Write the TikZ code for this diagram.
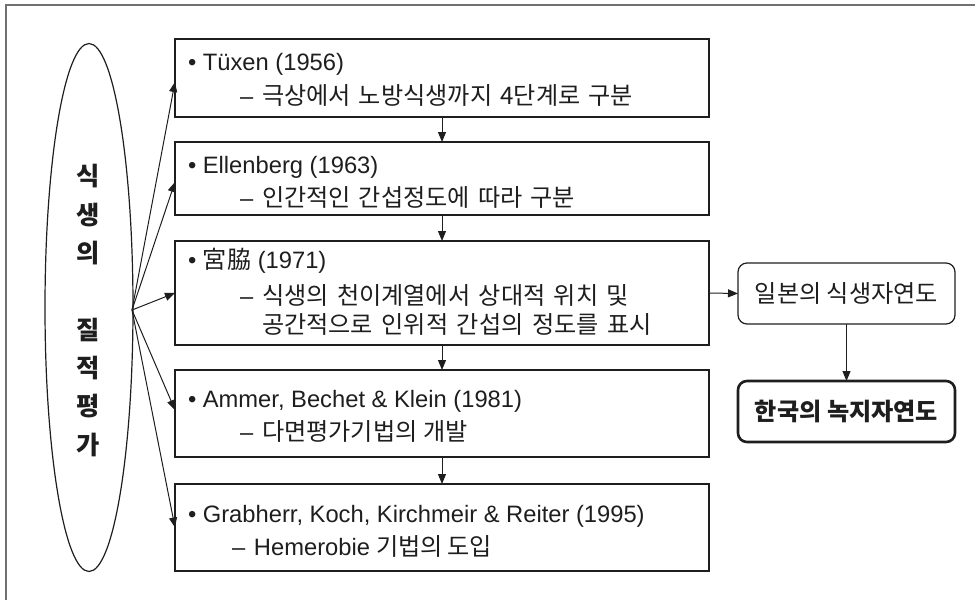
\documentclass[tikz,border=0pt]{standalone}
\usepackage{fontspec}
\setmainfont{Liberation Sans}[Scale=1.13]
\newfontfamily\kr{Noto Sans CJK KR}[Scale=1.15]
\usetikzlibrary{shapes.geometric,arrows.meta}
\definecolor{ink}{HTML}{1E1E1E}
\definecolor{framegray}{HTML}{707070}
\newcommand\fitline[2]{\makebox[#1pt][s]{#2}}
\newcommand\dashlead{\makebox[22pt][l]{–}}
\begin{document}
\begin{tikzpicture}[x=1pt,y=-1pt,
  every node/.style={inner sep=0pt,outer sep=0pt,text=ink},
  box/.style={draw=ink,line width=1.2pt,minimum width=534pt},
  rbox/.style={draw=ink,line width=1.2pt,rounded corners=9pt,minimum width=217pt,minimum height=61pt,font=\kr\fontsize{21}{25}\selectfont},
  txt/.style={anchor=base west,font=\fontsize{21}{25}\selectfont},
  arr/.style={draw=ink,line width=1pt,-{Triangle[length=10pt,width=8pt]}}
]
\useasboundingbox (0,0) rectangle (975,600);
\draw[framegray,line width=2pt] (6,600) -- (6,5) -- (975,5);

\node[draw=ink,line width=1.2pt,ellipse,minimum width=88pt,minimum height=528pt] (ell) at (89,307.5) {};
\node[align=center,font=\kr\bfseries\fontsize{22}{38.3}\selectfont] (elltxt) at (88,310.5)
  {식\\생\\의\\\mbox{}\\질\\적\\평\\가};

\node[box,minimum height=78pt] (b1) at (442,78) {};
\node[box,minimum height=73pt] (b2) at (442,178.5) {};
\node[box,minimum height=104pt] (b3) at (442,293) {};
\node[box,minimum height=87pt] (b4) at (442,413.5) {};
\node[box,minimum height=87pt] (b5) at (442,527.5) {};

\node[txt] (t1a) at (188,70) {• Tüxen (1956)};
\node[txt] (t1b) at (240,104) {\dashlead\fitline{371}{\kr 극상에서 노방식생까지 4단계로 구분}};
\node[txt] (t2a) at (188,173) {• Ellenberg (1963)};
\node[txt] (t2b) at (240,206) {\dashlead\fitline{313}{\kr 인간적인 간섭정도에 따라 구분}};
\node[txt] (t3a) at (188,268) {• {\kr 宮脇} (1971)};
\node[txt] (t3b) at (240,304) {\dashlead\fitline{367}{\kr 식생의 천이계열에서 상대적 위치 및}};
\node[txt] (t3c) at (262,333) {\fitline{390}{\kr 공간적으로 인위적 간섭의 정도를 표시}};
\node[txt] (t4a) at (188,407) {• Ammer, Bechet \& Klein (1981)};
\node[txt] (t4b) at (240,440) {\dashlead\fitline{206}{\kr 다면평가기법의 개발}};
\node[txt] (t5a) at (188,522) {• Grabherr, Koch, Kirchmeir \& Reiter (1995)};
\node[txt] (t5b) at (232,555) {\dashlead\fitline{238}{Hemerobie {\kr 기법의 도입}}};

\node[rbox] (jp) at (846.5,293.5) {일본의 식생자연도};
\node[rbox,line width=2.6pt,font=\kr\bfseries\fontsize{21}{28}\selectfont] (ko) at (846.5,411.5) {한국의 녹지자연도};

\coordinate (src) at (132,310);
\draw[arr] (src) -- ([yshift=-4pt]b1.west);
\draw[arr] (src) -- ([yshift=-3.5pt]b2.west);
\draw[arr] (src) -- (b3.west);
\draw[arr] (src) -- ([yshift=3.5pt]b4.west);
\draw[arr] (src) -- (b5.west);

\draw[arr] (b1.south) -- (b2.north);
\draw[arr] (b2.south) -- (b3.north);
\draw[arr] (b3.south) -- (b4.north);
\draw[arr] (b4.south) -- (b5.north);
\draw[arr] (b3.east) -- (jp.west);
\draw[arr] (jp.south) -- (ko.north);
\end{tikzpicture}
\end{document}
